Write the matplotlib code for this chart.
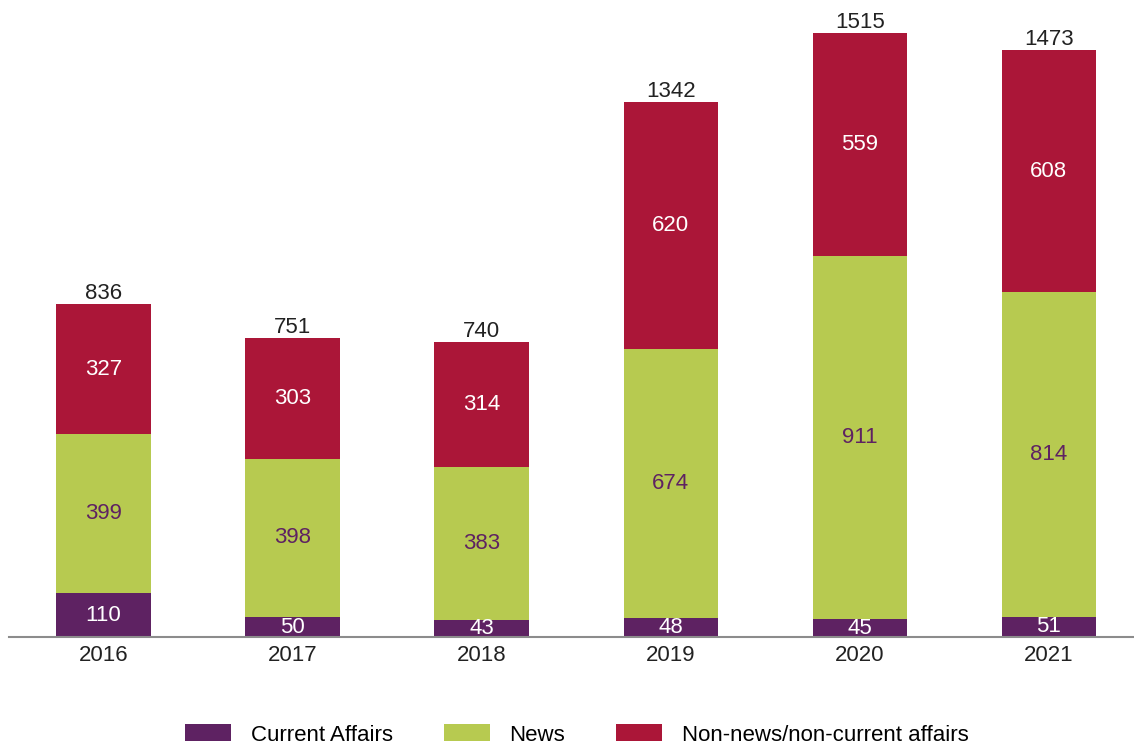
import matplotlib
matplotlib.use("Agg")
import matplotlib.pyplot as plt
import numpy as np

plt.rcParams['font.family'] = ['Liberation Sans', 'DejaVu Sans']

years = ["2016", "2017", "2018", "2019", "2020", "2021"]
current_affairs = [110, 50, 43, 48, 45, 51]
news = [399, 398, 383, 674, 911, 814]
non_news = [327, 303, 314, 620, 559, 608]

purple = "#5E2262"
green = "#B7CA50"
red = "#AB1638"

fig = plt.figure(figsize=(11.34, 7.49), dpi=100)
ax = fig.add_axes([0.008, 0.1495, 0.992, 0.8505])

x = np.arange(len(years))
w = 0.5
ca = np.array(current_affairs)
nw = np.array(news)
nn = np.array(non_news)

b1 = ax.bar(x, ca, w, color=purple, label="Current Affairs")
b2 = ax.bar(x, nw, w, bottom=ca, color=green, label="News")
b3 = ax.bar(x, nn, w, bottom=ca + nw, color=red, label="Non-news/non-current affairs")

fs = 16
for i in range(len(years)):
    ax.text(x[i], ca[i] / 2, str(ca[i]), ha="center", va="center", color="white", fontsize=fs)
    ax.text(x[i], ca[i] + nw[i] / 2, str(nw[i]), ha="center", va="center", color=purple, fontsize=fs)
    ax.text(x[i], ca[i] + nw[i] + nn[i] / 2, str(nn[i]), ha="center", va="center", color="white", fontsize=fs)
    total = ca[i] + nw[i] + nn[i]
    ax.annotate(str(total), (x[i], total), xytext=(0, 0), textcoords="offset points",
                ha="center", va="bottom", color="#222222", fontsize=fs)

ax.set_xlim(-0.5, 5.45)
ax.set_ylim(0, 1599)
ax.set_xticks(x)
ax.set_xticklabels(years, fontsize=fs, color="#222222")
ax.tick_params(axis="x", length=0, pad=6)
ax.set_yticks([])
for s in ["top", "right", "left"]:
    ax.spines[s].set_visible(False)
ax.spines["bottom"].set_color("#8c8c8c")
ax.spines["bottom"].set_linewidth(1.5)

fig.legend(handles=[b1, b2, b3], loc="center", bbox_to_anchor=(0.5 + 10 / 1134, 1 - 735 / 749),
           ncol=3, frameon=False, fontsize=fs, handlelength=2.07, handleheight=0.8,
           handletextpad=0.875, columnspacing=2.3)

fig.savefig("out.png", dpi=100)
